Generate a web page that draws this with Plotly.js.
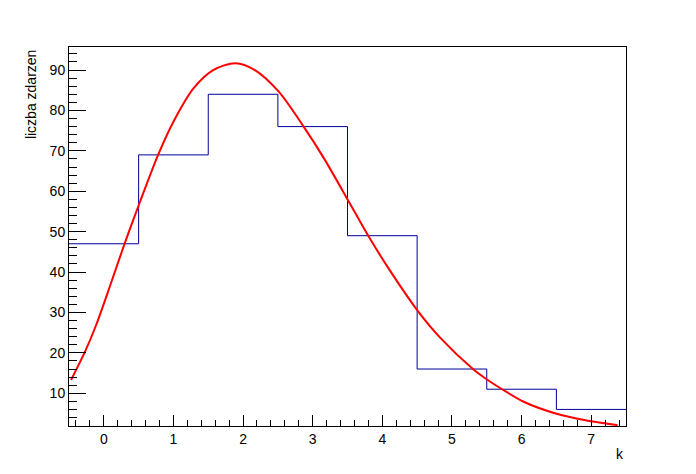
<!DOCTYPE html>
<html>
<head>
<meta charset="utf-8">
<script src="https://cdn.plot.ly/plotly-3.0.1.min.js"></script>
<style>html,body{margin:0;padding:0;background:#fff;}#chart{width:696px;height:474px;}</style>
</head>
<body>
<div id="chart"></div>
<script>
// Histogram: bin centres k and counts
var k = [0, 1, 2, 3, 4, 5, 6, 7];
var counts = [47, 69, 84, 76, 49, 16, 11, 6];

// Fit curve
var fitX = [-0.47, -0.27, -0.11, 0.09, 0.30, 0.52, 0.78, 1.00, 1.29, 1.57, 1.89, 2.17, 2.51, 2.87, 3.16, 3.52, 3.80, 4.12, 4.50, 4.84, 5.31, 5.53, 5.72, 6.03, 6.49, 6.90, 7.38];
var fitY = [13.3, 20.3, 26.9, 36.6, 47.1, 57.4, 69.0, 77.2, 85.5, 90.0, 91.7, 90.0, 84.7, 76.0, 68.2, 57.4, 48.9, 40.1, 30.6, 23.6, 15.9, 13.1, 11.0, 7.9, 5.0, 3.4, 2.1];

// Tick labels
var xTicks = [0, 1, 2, 3, 4, 5, 6, 7];
var yTicks = [10, 20, 30, 40, 50, 60, 70, 80, 90];

var binW = 1;
var edges = k.map(function (c) { return c - binW / 2; });
edges.push(k[k.length - 1] + binW / 2);
var stepY = counts.slice();
stepY.push(counts[counts.length - 1]);

var traces = [
  {
    x: edges, y: stepY, type: 'scatter', mode: 'lines',
    line: {shape: 'hv', color: '#000099', width: 1},
    hoverinfo: 'skip', showlegend: false
  },
  {
    x: fitX, y: fitY, type: 'scatter', mode: 'lines',
    line: {shape: 'spline', smoothing: 0.8, color: '#ff0000', width: 2},
    hoverinfo: 'skip', showlegend: false
  }
];

var fontFam = '"Liberation Sans", Arial, Helvetica, sans-serif';

var layout = {
  width: 696, height: 474,
  margin: {l: 69, r: 70, t: 47, b: 48, pad: 0},
  paper_bgcolor: '#ffffff', plot_bgcolor: '#ffffff',
  font: {family: fontFam, size: 14, color: '#000'},
  showlegend: false,
  xaxis: {
    range: [-0.5, 7.5], tickvals: xTicks, ticktext: xTicks.map(String),
    ticks: 'inside', ticklen: 11, tickwidth: 1, tickcolor: '#000',
    minor: {dtick: 0.2, tick0: 0, ticks: 'inside', ticklen: 6, tickwidth: 1, tickcolor: '#000', showgrid: false},
    showgrid: false, zeroline: false,
    showline: true, linecolor: '#000', linewidth: 1, mirror: true,
    tickfont: {family: fontFam, size: 14, color: '#000'}
  },
  yaxis: {
    range: [1.9, 95.7], tickvals: yTicks, ticktext: yTicks.map(String),
    ticks: 'inside', ticklen: 17, tickwidth: 1, tickcolor: '#000',
    minor: {dtick: 2, tick0: 0, ticks: 'inside', ticklen: 8, tickwidth: 1, tickcolor: '#000', showgrid: false},
    showgrid: false, zeroline: false,
    showline: true, linecolor: '#000', linewidth: 1, mirror: true,
    tickfont: {family: fontFam, size: 14, color: '#000'}
  },
  annotations: [
    {text: 'liczba zdarzen', xref: 'paper', yref: 'paper', x: -0.068, y: 1,
     xanchor: 'center', yanchor: 'top', textangle: -90, showarrow: false,
     font: {family: fontFam, size: 14, color: '#000'}},
    {text: 'k', xref: 'paper', yref: 'paper', x: 1, y: -0.074,
     xanchor: 'right', yanchor: 'middle', showarrow: false,
     font: {family: fontFam, size: 14, color: '#000'}}
  ]
};

Plotly.newPlot('chart', traces, layout, {staticPlot: true, displayModeBar: false});
</script>
</body>
</html>
